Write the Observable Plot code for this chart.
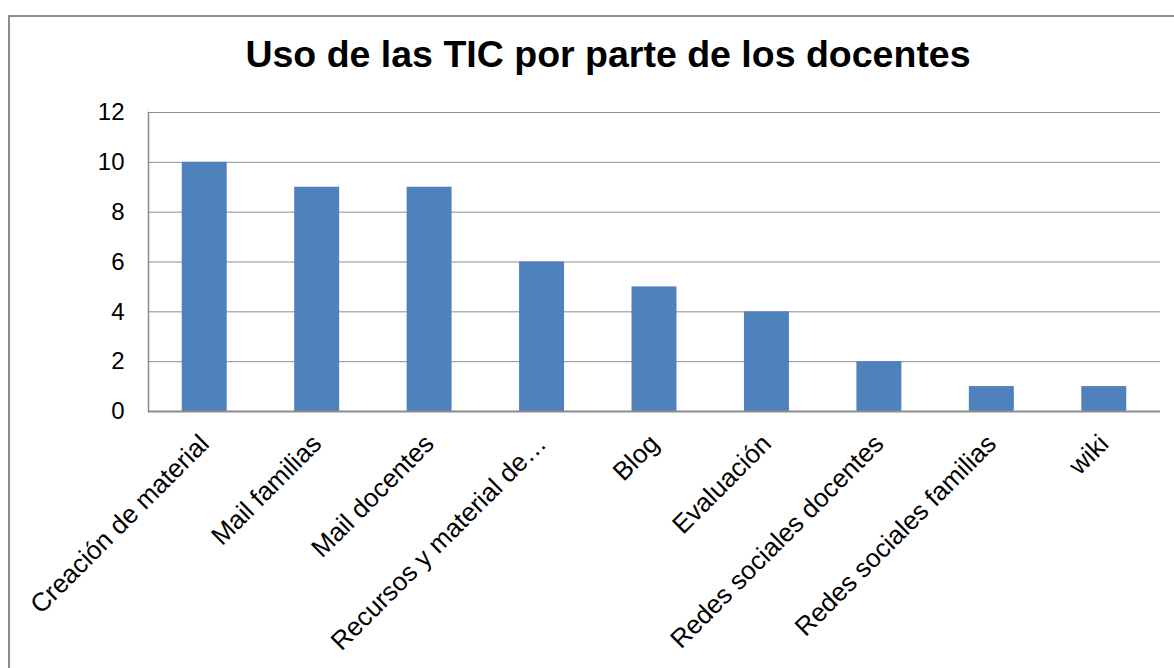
<!DOCTYPE html>
<html>
<head>
<meta charset="utf-8">
<script src="https://cdn.jsdelivr.net/npm/d3@7"></script>
<script src="https://cdn.jsdelivr.net/npm/@observablehq/plot@0.6"></script>
<style>
  html, body { margin: 0; padding: 0; background: #fff; overflow: hidden; }
  #wrap { position: relative; width: 1174px; height: 668px; }
  #border { position: absolute; left: 8px; top: 15px; width: 1200px; height: 700px; border: 2px solid #8c8c8c; box-sizing: border-box; }
  #title { position: absolute; left: 0; width: 1216px; top: 33px; text-align: center; font: bold 37.5px "Liberation Sans", Arial, sans-serif; color: #000; }
  #chart { position: absolute; left: 0; top: 0; }
</style>
</head>
<body>
<div id="wrap">
  <div id="border"></div>
  <div id="title">Uso de las TIC por parte de los docentes</div>
  <div id="chart"></div>
</div>
<script>
const categories = ["Creación de material", "Mail familias", "Mail docentes", "Recursos y material de…", "Blog", "Evaluación", "Redes sociales docentes", "Redes sociales familias", "wiki"];
const values = [10, 9, 9, 6, 5, 4, 2, 1, 1];
const yTicks = [0, 2, 4, 6, 8, 10, 12];

const data = categories.map((c, i) => ({category: c, value: values[i]}));

const chart = Plot.plot({
  width: 1174,
  height: 668,
  marginLeft: 148,
  marginRight: 14,
  marginTop: 112,
  marginBottom: 257,
  style: {fontFamily: '"Liberation Sans", Arial, sans-serif', fontSize: "24px", color: "#000", background: "transparent"},
  x: {domain: categories, paddingInner: 0.6, paddingOuter: 0.3, round: false, label: null},
  y: {domain: [0, 12], label: null},
  marks: [
    Plot.ruleY(yTicks.filter(d => d > 0), {stroke: "#8c8c8c", strokeWidth: 1}),
    Plot.barY(data, {x: "category", y: "value", fill: "#4f81bd"}),
    Plot.ruleY([0], {stroke: "#8c8c8c", strokeWidth: 2}),
    Plot.frame({anchor: "left", stroke: "#8c8c8c", strokeWidth: 1.5}),
    Plot.axisY({ticks: yTicks, tickSize: 0, tickPadding: 24, fontSize: 24, label: null}),
    Plot.axisX({tickSize: 0, tickPadding: 28, tickRotate: -45, fontSize: 26, label: null})
  ]
});
document.getElementById("chart").appendChild(chart);
</script>
</body>
</html>
